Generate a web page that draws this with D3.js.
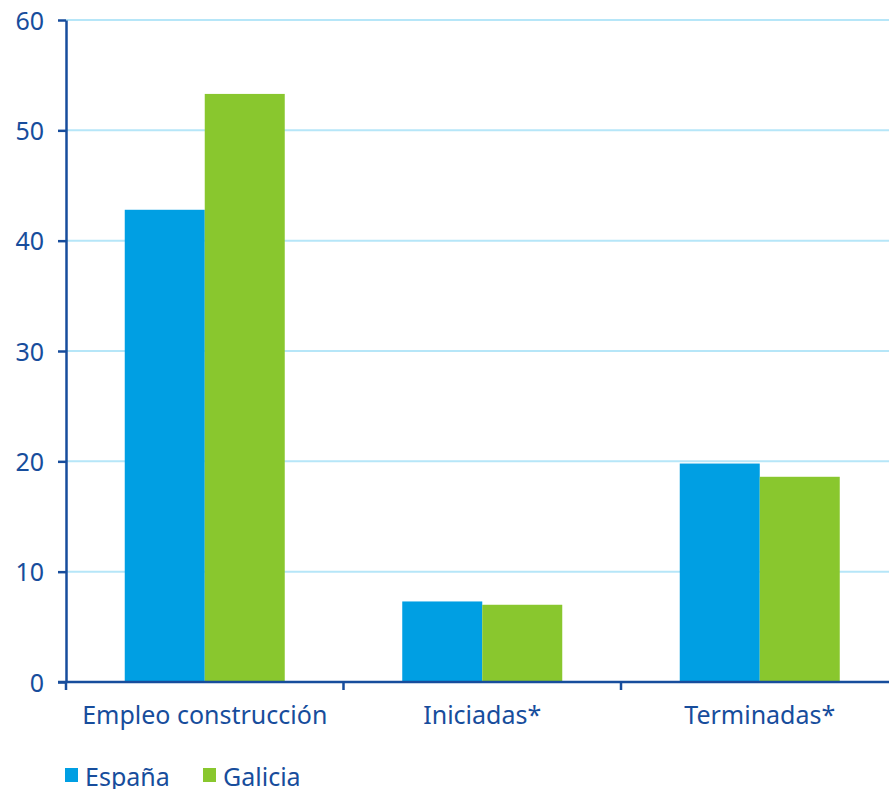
<!DOCTYPE html>
<html>
<head>
<meta charset="utf-8">
<script src="https://cdn.jsdelivr.net/npm/d3@7"></script>
<style>
  body { margin: 0; background: #fff; }
  svg text { font-family: "Noto Sans", sans-serif; fill: #174d9c; }
</style>
</head>
<body>
<svg id="chart" width="889" height="789"></svg>
<script>
// data
const categories = ['Empleo construcción', 'Iniciadas*', 'Terminadas*'];
const seriesNames = ['España', 'Galicia'];
const espana = [42.8, 7.3, 19.8];
const galicia = [53.3, 7.0, 18.6];
const yTicks = [0, 10, 20, 30, 40, 50, 60];

const colors = {'España': '#009fe3', 'Galicia': '#89c72e'};
const axisColor = '#174d9c';
const gridColor = '#b6e6f8';

let svg = d3.select('#chart');
let margin = {left: 66, right: 1, top: 20, bottom: 107};
let W = 889, H = 789;

let x = d3.scaleBand()
    .domain(categories)
    .range([margin.left, 66 + 3 * 277.5])
    .paddingInner(0)
    .paddingOuter(0);

let y = d3.scaleLinear()
    .domain([0, 60])
    .range([682, margin.top]);

let xSub = d3.scaleBand()
    .domain(seriesNames)
    .range([0, 160]);

// gridlines
svg.append('g')
    .selectAll('line')
    .data(yTicks.filter(d => d > 0))
    .enter()
    .append('line')
    .attr('x1', margin.left)
    .attr('x2', W)
    .attr('y1', d => y(d))
    .attr('y2', d => y(d))
    .attr('stroke', gridColor)
    .attr('stroke-width', 2);

// bars
let rows = categories.map((c, i) => ({cat: c, vals: [
    {name: 'España', v: espana[i]},
    {name: 'Galicia', v: galicia[i]}
]}));

let groups = svg.append('g')
    .selectAll('g')
    .data(rows)
    .enter()
    .append('g')
    .attr('transform', d => `translate(${x(d.cat) + x.bandwidth() / 2 - 80},0)`);

groups.selectAll('rect')
    .data(d => d.vals)
    .enter()
    .append('rect')
    .attr('x', d => xSub(d.name))
    .attr('width', xSub.bandwidth())
    .attr('y', d => y(d.v))
    .attr('height', d => y(0) - y(d.v))
    .attr('fill', d => colors[d.name]);

// y axis
let yAxis = svg.append('g')
    .attr('transform', `translate(${margin.left},0)`)
    .call(d3.axisLeft(y).tickValues(yTicks).tickSize(8).tickPadding(14).tickSizeOuter(0));
yAxis.select('.domain').attr('stroke', axisColor).attr('stroke-width', 2.5);
yAxis.selectAll('.tick line').attr('stroke', axisColor).attr('stroke-width', 2.5);
yAxis.selectAll('.tick text')
    .attr('font-size', 25)
    .attr('fill', axisColor)
    .attr('dy', '0.36em')
    .style('font-family', '"Noto Sans", sans-serif');

// x axis line with ticks at band edges
let xg = svg.append('g');
xg.append('line')
    .attr('x1', margin.left - 8)
    .attr('x2', W)
    .attr('y1', y(0))
    .attr('y2', y(0))
    .attr('stroke', axisColor)
    .attr('stroke-width', 2.5);

let edges = categories.map(c => x(c)).concat([x(categories[2]) + x.bandwidth()]);
xg.selectAll('.xtick')
    .data(edges)
    .enter()
    .append('line')
    .attr('class', 'xtick')
    .attr('x1', d => d)
    .attr('x2', d => d)
    .attr('y1', y(0))
    .attr('y2', y(0) + 8)
    .attr('stroke', axisColor)
    .attr('stroke-width', 2.5);

xg.selectAll('.xlabel')
    .data(categories)
    .enter()
    .append('text')
    .attr('class', 'xlabel')
    .attr('x', d => x(d) + x.bandwidth() / 2)
    .attr('y', 724)
    .attr('text-anchor', 'middle')
    .attr('font-size', 25)
    .text(d => d);

// legend
let legendX = [65, 203];
let legend = svg.append('g')
    .selectAll('g')
    .data(seriesNames)
    .enter()
    .append('g')
    .attr('transform', (d, i) => `translate(${legendX[i]},768)`);

legend.append('rect')
    .attr('width', 13)
    .attr('height', 14)
    .attr('fill', d => colors[d]);

legend.append('text')
    .attr('x', 20)
    .attr('y', 18)
    .attr('font-size', 25)
    .text(d => d);
</script>
</body>
</html>
